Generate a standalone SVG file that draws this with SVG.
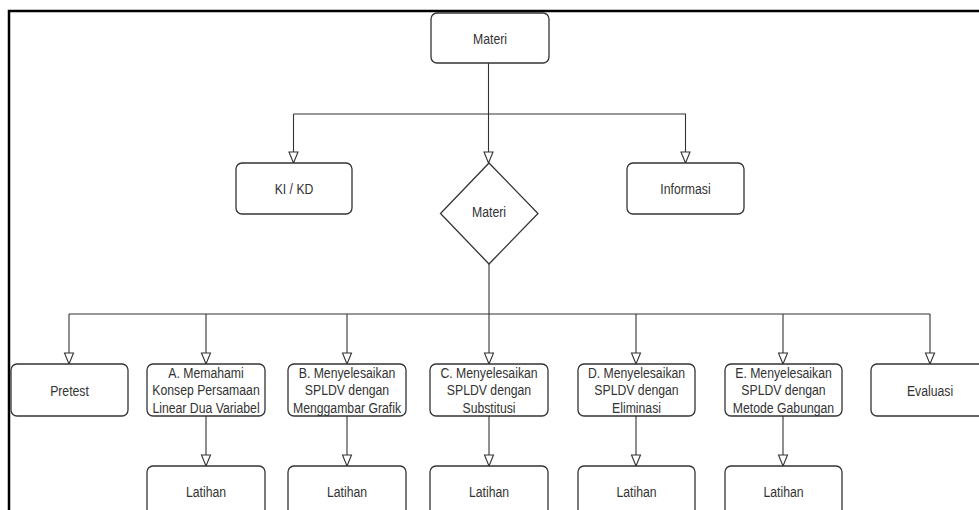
<svg xmlns="http://www.w3.org/2000/svg" width="979" height="510" viewBox="0 0 979 510">
<style>
.box{fill:#fff;stroke:#333;stroke-width:1.3}
.ln{fill:none;stroke:#333;stroke-width:1.1}
.t{font-family:"Liberation Sans",Arial,sans-serif;font-size:15.5px;fill:#333;text-anchor:middle}
</style>
<defs>
<marker id="arr" markerUnits="userSpaceOnUse" markerWidth="14" markerHeight="12" viewBox="-13 -6 14 12" refX="0" refY="0" orient="auto">
<path d="M0,0 L-11,-4.5 L-11,4.5 Z" fill="#fff" stroke="#333" stroke-width="1.1"/>
</marker>
</defs>
<rect width="979" height="510" fill="#fff"/>
<path d="M9,510 V11 H979" fill="none" stroke="#000" stroke-width="2.5"/>
<g id="connectors">
<path class="ln" d="M488.5,63 V163" marker-end="url(#arr)"/>
<path class="ln" d="M293.5,114 H686"/>
<path class="ln" d="M293.5,114 V163" marker-end="url(#arr)"/>
<path class="ln" d="M685.5,114 V163" marker-end="url(#arr)"/>
<path class="ln" d="M489,264 V364" marker-end="url(#arr)"/>
<path class="ln" d="M69,314 H930"/>
<path class="ln" d="M69,314 V364" marker-end="url(#arr)"/>
<path class="ln" d="M206,314 V364" marker-end="url(#arr)"/>
<path class="ln" d="M347,314 V364" marker-end="url(#arr)"/>
<path class="ln" d="M636,314 V364" marker-end="url(#arr)"/>
<path class="ln" d="M783,314 V364" marker-end="url(#arr)"/>
<path class="ln" d="M930,314 V364" marker-end="url(#arr)"/>
<path class="ln" d="M206,416 V466" marker-end="url(#arr)"/>
<path class="ln" d="M347,416 V466" marker-end="url(#arr)"/>
<path class="ln" d="M489,416 V466" marker-end="url(#arr)"/>
<path class="ln" d="M636,416 V466" marker-end="url(#arr)"/>
<path class="ln" d="M783,416 V466" marker-end="url(#arr)"/>
</g>
<g id="materi-top"><rect class="box" x="431" y="13" width="118" height="50" rx="6"/><text class="t" transform="translate(490,43.5) scale(0.79,1)">Materi</text></g>
<g id="kikd"><rect class="box" x="236" y="163" width="116" height="51" rx="6"/><text class="t" transform="translate(294,194) scale(0.79,1)">KI / KD</text></g>
<g id="materi-diamond"><polygon class="box" points="489,163 538,213.5 489,264 440.5,213.5"/><text class="t" transform="translate(489,216.5) scale(0.79,1)">Materi</text></g>
<g id="informasi"><rect class="box" x="627" y="163" width="117" height="51" rx="6"/><text class="t" transform="translate(685.5,194) scale(0.79,1)">Informasi</text></g>
<g id="pretest"><rect class="box" x="11" y="364" width="117" height="52" rx="6"/><text class="t" transform="translate(69.5,395.5) scale(0.79,1)">Pretest</text></g>
<g id="a"><rect class="box" x="147" y="364" width="118" height="52" rx="6"/><text class="t" transform="translate(206,377.5) scale(0.79,1)"><tspan x="0">A. Memahami</tspan><tspan x="0" dy="18">Konsep Persamaan</tspan><tspan x="0" dy="18">Linear Dua Variabel</tspan></text></g>
<g id="b"><rect class="box" x="288" y="364" width="118" height="52" rx="6"/><text class="t" transform="translate(347,377.5) scale(0.79,1)"><tspan x="0">B. Menyelesaikan</tspan><tspan x="0" dy="18">SPLDV dengan</tspan><tspan x="0" dy="18">Menggambar Grafik</tspan></text></g>
<g id="c"><rect class="box" x="430" y="364" width="118" height="52" rx="6"/><text class="t" transform="translate(489,377.5) scale(0.79,1)"><tspan x="0">C. Menyelesaikan</tspan><tspan x="0" dy="18">SPLDV dengan</tspan><tspan x="0" dy="18">Substitusi</tspan></text></g>
<g id="d"><rect class="box" x="578" y="364" width="117" height="52" rx="6"/><text class="t" transform="translate(636.5,377.5) scale(0.79,1)"><tspan x="0">D. Menyelesaikan</tspan><tspan x="0" dy="18">SPLDV dengan</tspan><tspan x="0" dy="18">Eliminasi</tspan></text></g>
<g id="e"><rect class="box" x="725" y="364" width="117" height="52" rx="6"/><text class="t" transform="translate(783.5,377.5) scale(0.79,1)"><tspan x="0">E. Menyelesaikan</tspan><tspan x="0" dy="18">SPLDV dengan</tspan><tspan x="0" dy="18">Metode Gabungan</tspan></text></g>
<g id="evaluasi"><rect class="box" x="871" y="364" width="118" height="52" rx="6"/><text class="t" transform="translate(930,395.5) scale(0.79,1)">Evaluasi</text></g>
<g id="latihan-a"><rect class="box" x="147" y="466" width="118" height="60" rx="6"/><text class="t" transform="translate(206,496.5) scale(0.79,1)">Latihan</text></g>
<g id="latihan-b"><rect class="box" x="288" y="466" width="118" height="60" rx="6"/><text class="t" transform="translate(347,496.5) scale(0.79,1)">Latihan</text></g>
<g id="latihan-c"><rect class="box" x="430" y="466" width="118" height="60" rx="6"/><text class="t" transform="translate(489,496.5) scale(0.79,1)">Latihan</text></g>
<g id="latihan-d"><rect class="box" x="578" y="466" width="117" height="60" rx="6"/><text class="t" transform="translate(636.5,496.5) scale(0.79,1)">Latihan</text></g>
<g id="latihan-e"><rect class="box" x="725" y="466" width="117" height="60" rx="6"/><text class="t" transform="translate(783.5,496.5) scale(0.79,1)">Latihan</text></g>
</svg>
